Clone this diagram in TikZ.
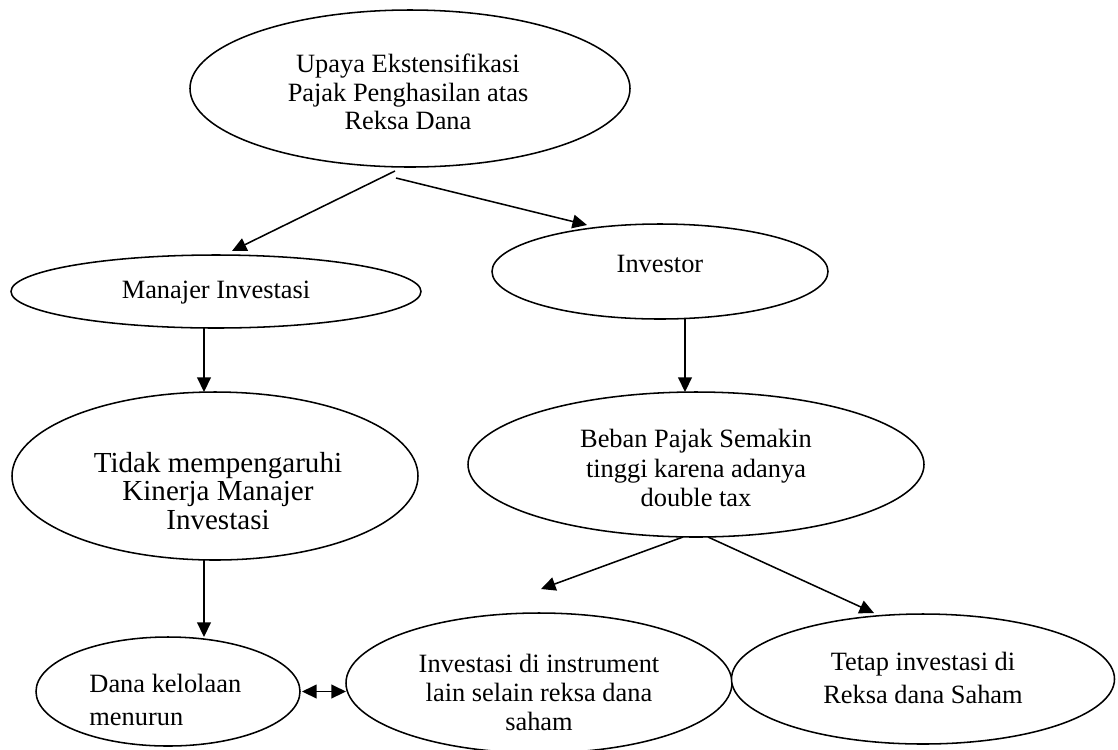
\documentclass[tikz,border=0pt]{standalone}
\usepackage{fontspec}
\setmainfont{Liberation Serif}
\usetikzlibrary{shapes.geometric,arrows.meta,calc}
\tikzset{
  bub/.style={draw=black, line width=0.7pt, ellipse, fill=white, inner sep=0pt, outer sep=0pt},
  lbl/.style={align=center, inner sep=0pt, font=\fontsize{12}{13}\selectfont},
  tip/.tip={Triangle[length=6.6pt,width=6.2pt]},
  arr/.style={draw=black, line width=0.7pt, -tip},
  darr/.style={draw=black, line width=0.7pt, tip-tip},
}
\begin{document}
\begin{tikzpicture}[x=0.4545pt,y=-0.4545pt]
\clip (0,0) rectangle (1118,749);
\fill[white] (0,0) rectangle (1118,749);
% ellipses
\node[bub, minimum width=440*0.4545pt, minimum height=157*0.4545pt] (A) at (410,88.5) {};
\node[bub, minimum width=410*0.4545pt, minimum height=73*0.4545pt] (MI) at (216,291.5) {};
\node[bub, minimum width=336*0.4545pt, minimum height=95*0.4545pt] (Inv) at (660,271.5) {};
\node[bub, minimum width=406*0.4545pt, minimum height=168*0.4545pt] (Tidak) at (215,476) {};
\node[bub, minimum width=456*0.4545pt, minimum height=145*0.4545pt] (Beban) at (696,464.5) {};
\node[bub, minimum width=264*0.4545pt, minimum height=109*0.4545pt] (Dana) at (168,691.5) {};
\node[bub, minimum width=386*0.4545pt, minimum height=140*0.4545pt] (Lain) at (539,683) {};
\node[bub, minimum width=383*0.4545pt, minimum height=130*0.4545pt] (Tetap) at (923,679) {};
% texts
\node[lbl, font=\fontsize{12}{12.95}\selectfont] (tA) at (408,92) {Upaya Ekstensifikasi\\Pajak Penghasilan atas\\Reksa Dana};
\node[lbl] (tMI) at (216,293) {Manajer Investasi};
\node[lbl] (tInv) at (660,264) {Investor};
\node[lbl, font=\fontsize{13.2}{12.8}\selectfont] (tTidak) at (218,491) {Tidak mempengaruhi\\Kinerja Manajer\\Investasi};
\node[lbl, font=\fontsize{12}{13.4}\selectfont] (tBeban) at (696,468) {Beban Pajak Semakin\\tinggi karena adanya\\double tax};
\node[lbl, align=left, anchor=west, font=\fontsize{12}{15}\selectfont] (tDana) at (89,700) {Dana kelolaan\\menurun};
\node[lbl, font=\fontsize{12}{13.2}\selectfont] (tLain) at (539,692) {Investasi di instrument\\lain selain reksa dana\\saham};
\node[lbl, font=\fontsize{12}{15}\selectfont] (tTetap) at (923,677.5) {Tetap investasi di\\Reksa dana Saham};
% connectors
\draw[arr] ($(A.south)+(-15,4)$) -- ($(MI.north)+(16,-4)$);
\draw[arr] ($(A.south)+(-14,11)$) -- ($(Inv.north)+(-73,1)$);
\draw[arr] ($(MI.south)+(-12,0)$) -- ($(Tidak.north)+(-11,0)$);
\draw[arr] ($(Inv.south)+(25,0)$) -- ($(Beban.north)+(-11,0)$);
\draw[arr] ($(Tidak.south)+(-11,0)$) -- ($(Dana.north)+(36,0)$);
\draw[arr] ($(Beban.south)+(-13,0)$) -- ($(Lain.north)+(2,-24)$);
\draw[arr] ($(Beban.south)+(12,0)$) -- ($(Tetap.north)+(-49,-1)$);
\draw[darr] ($(Dana.east)+(2,0)$) -- (Dana.east -| Lain.west);
\end{tikzpicture}
\end{document}
